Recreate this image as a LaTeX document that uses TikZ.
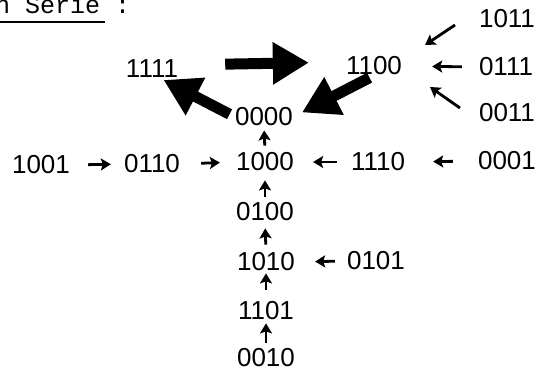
\documentclass[tikz,border=0pt]{standalone}
\usepackage{fontspec}
\setmainfont{Liberation Sans}
\newfontfamily\monof{Liberation Mono}
\usetikzlibrary{arrows.meta}
\begin{document}
\begin{tikzpicture}[x=1pt,y=-1pt,
 lbl/.style={inner sep=0pt, font=\fontsize{26}{30}\selectfont},
 sarr/.style={line width=2.8pt, -{Stealth[length=10pt,width=12pt,inset=2pt]}},
 barr/.style={line width=11pt, -{Triangle[length=36pt,width=40pt]}}]
\useasboundingbox (0,0) rectangle (538,372);
% title
\node[anchor=base west, inner sep=0pt, font=\monof\fontsize{25}{30}\selectfont] (title) at (-5,13) {n Serie :};
\draw[line width=1.5pt] (0,22) -- (105,22);
% labels
\node[lbl] (n1111) at (152,69) {1111};
\node[lbl] (n1100) at (374,66) {1100};
\node[lbl] (n1011) at (507,19) {1011};
\node[lbl] (n0111) at (506,67) {0111};
\node[lbl] (n0011) at (507,113) {0011};
\node[lbl] (n0000) at (264,117) {0000};
\node[lbl] (n1001) at (41,165) {1001};
\node[lbl] (n0110) at (152,164) {0110};
\node[lbl] (n1000) at (265,162) {1000};
\node[lbl] (n1110) at (378,162) {1110};
\node[lbl] (n0001) at (507,161) {0001};
\node[lbl] (n0100) at (265,212) {0100};
\node[lbl] (n1010) at (266,262) {1010};
\node[lbl] (n0101) at (376,261) {0101};
\node[lbl] (n1101) at (266,311) {1101};
\node[lbl] (n0010) at (266,358) {0010};
% big arrows
\draw[barr, shorten <=47pt, shorten >=37pt] ([yshift=4pt]n1111.east) -- ([yshift=4pt]n1100.west);
\draw[barr, shorten <=5pt, shorten >=10pt] (n1100.south) -- (n0000.east);
\draw[barr, shorten <=6pt, shorten >=4pt] (n0000.west) -- ([xshift=8pt]n1111.south);
% small horizontal arrows
\draw[sarr, shorten <=18pt, shorten >=13pt] (n1001.east) -- (n0110.west);
\draw[sarr, shorten <=21pt, shorten >=16pt] (n0110.east) -- (n1000.west);
\draw[sarr, shorten <=14pt, shorten >=19pt] (n1110.west) -- (n1000.east);
\draw[sarr, shorten <=25pt, shorten >=28pt] (n0001.west) -- (n1110.east);
\draw[sarr, shorten <=17pt, shorten >=30pt] (n0111.west) -- (n1100.east);
\draw[sarr, shorten <=12pt, shorten >=20pt] (n0101.west) -- (n1010.east);
% small diagonal arrows
\coordinate (d1s) at (455,25);
\coordinate (d1e) at (425,45);
\coordinate (d2s) at (460,108);
\coordinate (d2e) at (430,87);
\draw[sarr] (d1s) -- (d1e);
\draw[sarr] (d2s) -- (d2e);
% vertical arrows
\draw[sarr, shorten <=7pt, shorten >=4pt] (n1000.north) -- (n0000.south);
\draw[sarr, shorten <=6pt, shorten >=9pt] (n0100.north) -- (n1000.south);
\draw[sarr, shorten <=8pt, shorten >=7pt] (n1010.north) -- (n0100.south);
\draw[sarr, shorten <=12pt, shorten >=2pt] (n1101.north) -- (n1010.south);
\draw[sarr, shorten <=6pt, shorten >=3pt] (n0010.north) -- (n1101.south);
\end{tikzpicture}
\end{document}
